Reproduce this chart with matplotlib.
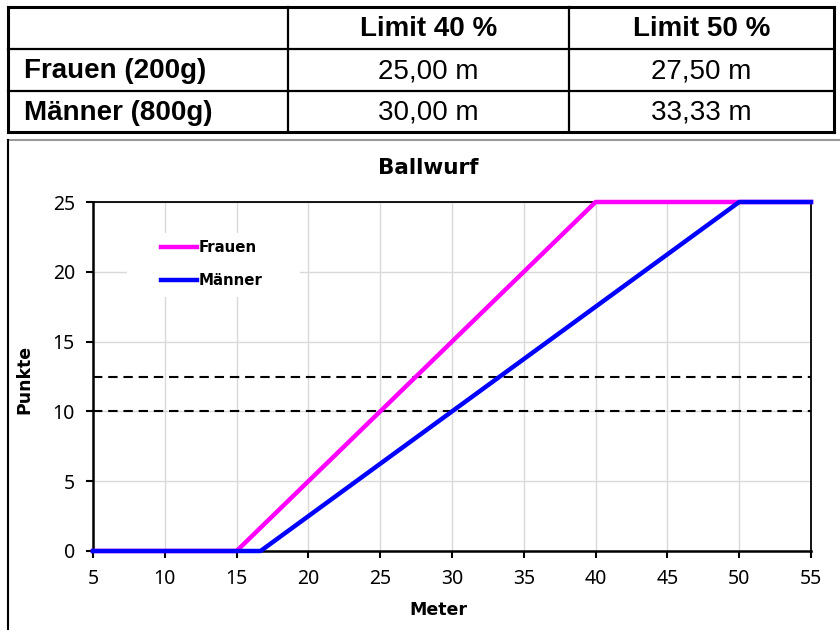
import matplotlib.pyplot as plt
from matplotlib.patches import Rectangle

# Werte aus der Tabelle / Grafik
frauen_m = [5, 15, 40, 55]
frauen_pkt = [0, 0, 25, 25]
maenner_m = [5, 16.67, 50, 55]
maenner_pkt = [0, 0, 25, 25]
limit_pkt = [10, 12.5]

col_labels = ['Limit 40 %', 'Limit 50 %']
row_labels = ['Frauen (200g)', 'Männer (800g)']
cell_text = [['25,00 m', '27,50 m'],
             ['30,00 m', '33,33 m']]

W, H = 840, 630
fig = plt.figure(figsize=(W / 100, H / 100), dpi=100)

# --- Tabelle oben (Pixelkoordinaten) ---
tab = fig.add_axes([0, 0, 1, 1])
tab.set_xlim(0, W)
tab.set_ylim(H, 0)
tab.axis('off')

xs = [8, 288, 569, 834]
ys = [7, 49, 91, 132]
for y in ys:
    lw = 2.2 if y in (ys[0], ys[-1]) else 1.6
    tab.plot([xs[0], xs[-1]], [y, y], color='black', lw=lw, solid_capstyle='projecting')
for x in xs:
    lw = 2.2 if x in (xs[0], xs[-1]) else 1.6
    tab.plot([x, x], [ys[0], ys[-1]], color='black', lw=lw, solid_capstyle='projecting')

tfont = 'Liberation Sans'
for j, lab in enumerate(col_labels):
    tab.text((xs[j + 1] + xs[j + 2]) / 2, (ys[0] + ys[1]) / 2 + 1, lab, ha='center', va='center',
             fontsize=20, fontweight='bold', family=tfont)
for i, lab in enumerate(row_labels):
    yc = (ys[i + 1] + ys[i + 2]) / 2 + 1
    tab.text(xs[0] + 16, yc, lab, ha='left', va='center', fontsize=20, fontweight='bold', family=tfont)
    for j, val in enumerate(cell_text[i]):
        tab.text((xs[j + 1] + xs[j + 2]) / 2, yc, val, ha='center', va='center',
                 fontsize=20, family=tfont)

# Rahmen des Diagrammbereichs
tab.plot([8, W], [140, 140], color='#999999', lw=1.5)
tab.plot([8, 8], [140, H], color='black', lw=1.5)

# --- Diagramm ---
ax = fig.add_axes([93 / W, 1 - 551 / H, 718 / W, 349 / H])
ax.set_axisbelow(True)
ax.grid(True, color='#d9d9d9', lw=1)

ax.add_patch(Rectangle((0.047, 0.727), 0.241, 0.184, transform=ax.transAxes,
                       facecolor='white', edgecolor='none', zorder=1))

for y in limit_pkt:
    ax.axhline(y, color='black', lw=1.5, ls=(0, (4.5, 2.8)), zorder=2)

ax.plot(frauen_m, frauen_pkt, color='#ff00ff', lw=3.2, label='Frauen', zorder=3, clip_on=False)
ax.plot(maenner_m, maenner_pkt, color='#0000ff', lw=3.2, label='Männer', zorder=4, clip_on=False)

ax.set_xlim(5, 55)
ax.set_ylim(0, 25)
ax.set_xticks(range(5, 56, 5))
ax.set_yticks(range(0, 26, 5))
ax.tick_params(axis='both', direction='out', length=5, width=1.5, labelsize=14)
ax.tick_params(axis='x', pad=8)
ax.tick_params(axis='y', pad=8)
for lab in ax.get_xticklabels() + ax.get_yticklabels():
    lab.set_family('Noto Sans')

for s in ['left', 'bottom']:
    ax.spines[s].set_linewidth(1.8)
for s in ['top', 'right']:
    ax.spines[s].set_linewidth(1.3)

ax.set_xlabel('Meter', fontsize=12.5, fontweight='bold')
ax.xaxis.set_label_coords(0.4805, -0.143)
ax.set_ylabel('Punkte', fontsize=12.5, fontweight='bold')
ax.yaxis.set_label_coords(-0.083, 0.493)

fig.text(428 / W, 1 - 168 / H, 'Ballwurf', ha='center', va='center', fontsize=15.5, fontweight='bold')

ax.legend(loc='center left', bbox_to_anchor=(0.0947, 0.821), frameon=False,
          prop={'weight': 'bold', 'size': 10.8}, handlelength=2.4, handletextpad=0.1,
          labelspacing=1.2, borderpad=0, borderaxespad=0)

fig.savefig('out.png', dpi=100)
